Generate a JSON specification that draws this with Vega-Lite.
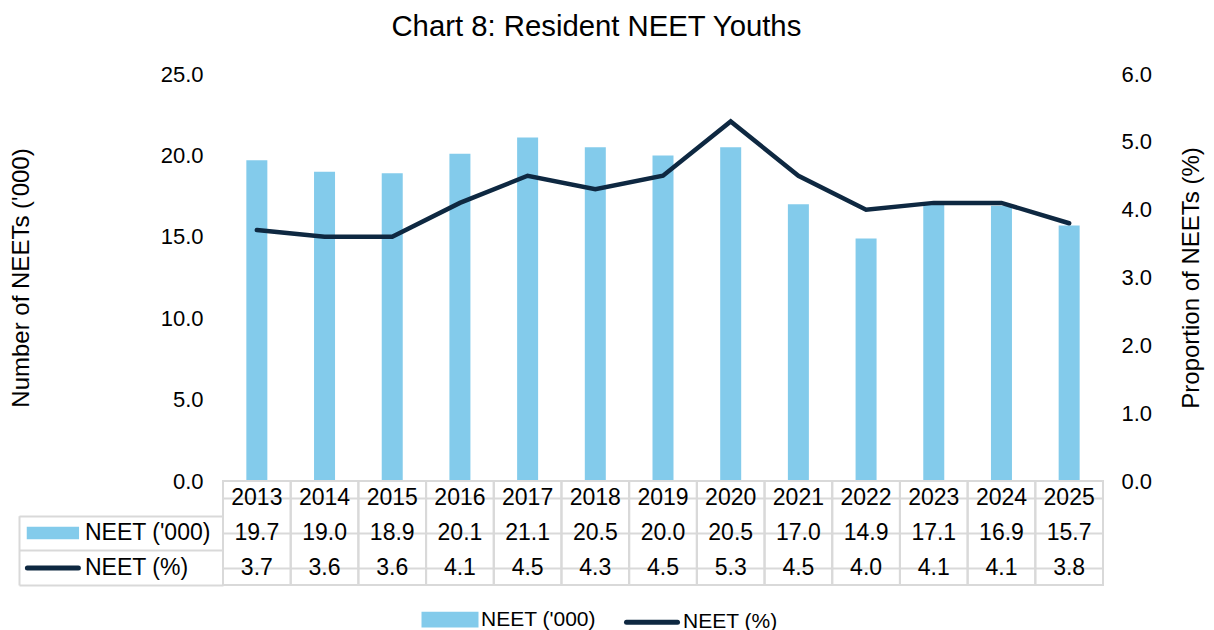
{
  "$schema": "https://vega.github.io/schema/vega-lite/v6.json",
  "background": "white",
  "padding": {"left": 9, "top": 12, "right": 5, "bottom": 0},
  "title": {"text": "Chart 8: Resident NEET Youths", "fontSize": 29.3, "fontWeight": "normal", "font": "Liberation Sans", "color": "#000000", "anchor": "middle", "offset": 21, "dx": -10},
  "datasets": {"neet": [
    {"year": "2013", "count": 19.7, "pct": 3.7},
    {"year": "2014", "count": 19.0, "pct": 3.6},
    {"year": "2015", "count": 18.9, "pct": 3.6},
    {"year": "2016", "count": 20.1, "pct": 4.1},
    {"year": "2017", "count": 21.1, "pct": 4.5},
    {"year": "2018", "count": 20.5, "pct": 4.3},
    {"year": "2019", "count": 20.0, "pct": 4.5},
    {"year": "2020", "count": 20.5, "pct": 5.3},
    {"year": "2021", "count": 17.0, "pct": 4.5},
    {"year": "2022", "count": 14.9, "pct": 4.0},
    {"year": "2023", "count": 17.1, "pct": 4.1},
    {"year": "2024", "count": 16.9, "pct": 4.1},
    {"year": "2025", "count": 15.7, "pct": 3.8}
  ]},
  "data": {"name": "neet"},
  "spacing": 0,
  "bounds": "flush",
  "vconcat": [
    {
      "width": 880,
      "height": 407,
      "layer": [
        {
          "mark": {"type": "bar", "size": 21},
          "encoding": {
            "x": {"field": "year", "type": "ordinal", "scale": {"paddingInner": 0, "paddingOuter": 0}, "axis": null},
            "y": {"field": "count", "type": "quantitative", "scale": {"domain": [0, 25], "nice": false},
              "axis": {"values": [0, 5, 10, 15, 20, 25], "format": ".1f", "title": "Number of NEETs ('000)", "grid": false, "domain": false, "ticks": false, "labelPadding": 20, "labelFontSize": 22, "titleFontSize": 24, "titleFontWeight": "normal", "titlePadding": 127}},
            "color": {"datum": "NEET ('000)", "scale": {"domain": ["NEET ('000)", "NEET (%)"], "range": ["#83CBEB", "#0E2841"]},
              "legend": {
                "orient": "none", "legendX": 200, "legendY": 535, "direction": "horizontal", "title": null,
                "labelFontSize": 21, "labelFont": "Liberation Sans", "labelColor": "#000000", "labelLimit": 0,
                "symbolSize": 100, "symbolStrokeWidth": 5, "symbolOffset": 16.5, "labelOffset": 20.5, "columnPadding": 20, "padding": 0,
                "encode": {"symbols": {"update": {
                  "shape": {"signal": "datum.value === 'NEET (%)' ? 'M-5.1,0H5.1' : 'M-5.2,-1.07H5.2V1.07H-5.2Z'"},
                  "fill": {"signal": "datum.value === 'NEET (%)' ? 'transparent' : '#83CBEB'"},
                  "stroke": {"signal": "datum.value === 'NEET (%)' ? '#0E2841' : 'transparent'"},
                  "strokeCap": {"value": "round"},
                  "opacity": {"value": 1}
                }}}
              }}
          }
        },
        {
          "mark": {"type": "line", "strokeWidth": 4.5, "strokeCap": "round"},
          "encoding": {
            "x": {"field": "year", "type": "ordinal", "axis": null},
            "y": {"field": "pct", "type": "quantitative", "scale": {"domain": [0, 6], "nice": false},
              "axis": {"orient": "right", "values": [0, 1, 2, 3, 4, 5, 6], "format": ".1f", "title": "Proportion of NEETs (%)", "grid": false, "domain": false, "ticks": false, "labelPadding": 18, "labelFontSize": 22, "titleFontSize": 24, "titleFontWeight": "normal", "titleAngle": 270, "titleBaseline": "top", "titlePadding": 28}},
            "color": {"datum": "NEET (%)"}
          }
        }
      ],
      "resolve": {"scale": {"y": "independent"}}
    },
    {
      "width": 880,
      "height": 104,
      "layer": [
        {
          "layer": [
            {
              "mark": {"type": "rect", "filled": false, "stroke": "#D9D9D9", "strokeWidth": 2},
              "encoding": {
                "x": {"field": "year", "type": "ordinal", "scale": {"paddingInner": 0, "paddingOuter": 0}, "axis": null}
              }
            },
            {
              "mark": {"type": "text", "fontSize": 23, "font": "Liberation Sans", "color": "#000000"},
              "encoding": {
                "x": {"field": "year", "type": "ordinal", "axis": null},
                "y": {"datum": "Year", "type": "nominal", "scale": {"domain": ["Year", "NEET ('000)", "NEET (%)"], "paddingInner": 0, "paddingOuter": 0},
                  "axis": {"title": null, "labels": false, "domain": false, "ticks": false, "grid": true, "gridColor": "#D9D9D9", "gridWidth": 2, "bandPosition": 1}},
                "text": {"field": "year", "type": "nominal"}
              }
            },
            {
              "mark": {"type": "text", "fontSize": 23, "font": "Liberation Sans", "color": "#000000"},
              "encoding": {
                "x": {"field": "year", "type": "ordinal", "axis": null},
                "y": {"datum": "NEET ('000)", "type": "nominal"},
                "text": {"field": "count", "type": "quantitative", "format": ".1f"}
              }
            },
            {
              "mark": {"type": "text", "fontSize": 23, "font": "Liberation Sans", "color": "#000000"},
              "encoding": {
                "x": {"field": "year", "type": "ordinal", "axis": null},
                "y": {"datum": "NEET (%)", "type": "nominal"},
                "text": {"field": "pct", "type": "quantitative", "format": ".1f"}
              }
            }
          ]
        },
        {
          "mark": {"type": "text", "text": ""},
          "encoding": {
            "y": {"datum": "NEET ('000)", "type": "nominal", "scale": {"domain": ["NEET ('000)", "NEET (%)"], "range": [34.7, 104]},
              "axis": {"orient": "left", "title": null, "labels": false, "ticks": true, "tickBand": "extent", "tickSize": 204, "tickColor": "#D9D9D9", "tickWidth": 2, "grid": false, "domain": false}},
            "color": {"datum": "NEET ('000)", "scale": {"domain": ["NEET ('000)", "NEET (%)"], "range": ["#83CBEB", "#0E2841"]},
              "legend": {
                "orient": "none", "legendX": -200, "legendY": 40.5, "direction": "vertical", "title": null,
                "labelFontSize": 23, "labelFont": "Liberation Sans", "labelColor": "#000000", "labelLimit": 0,
                "symbolSize": 100, "symbolStrokeWidth": 5, "symbolOffset": 18.4, "labelOffset": 20.6, "rowPadding": 7, "padding": 0,
                "encode": {"symbols": {"update": {
                  "shape": {"signal": "datum.value === 'NEET (%)' ? 'M-5.1,0H5.1' : 'M-5.23,-1.27H5.23V1.27H-5.23Z'"},
                  "fill": {"signal": "datum.value === 'NEET (%)' ? 'transparent' : '#83CBEB'"},
                  "stroke": {"signal": "datum.value === 'NEET (%)' ? '#0E2841' : 'transparent'"},
                  "strokeCap": {"value": "round"},
                  "opacity": {"value": 1}
                }}}
              }}
          }
        },
        {
          "mark": {"type": "text", "text": ""},
          "encoding": {
            "y": {"datum": "NEET (%)", "type": "nominal", "scale": {"domain": ["NEET ('000)", "NEET (%)"], "range": [34.7, 104]},
              "axis": {"orient": "left", "offset": 204, "title": null, "labels": false, "ticks": false, "grid": false, "domain": true, "domainColor": "#D9D9D9", "domainWidth": 2}}
          }
        }
      ],
      "resolve": {"scale": {"y": "independent"}}
    }
  ],
  "resolve": {"scale": {"color": "independent"}, "legend": {"color": "independent"}},
  "config": {
    "font": "Liberation Sans",
    "view": {"stroke": null},
    "axis": {"labelColor": "#000000", "titleColor": "#000000", "labelFont": "Liberation Sans", "titleFont": "Liberation Sans"},
    "legend": {"labelColor": "#000000"}
  }
}
